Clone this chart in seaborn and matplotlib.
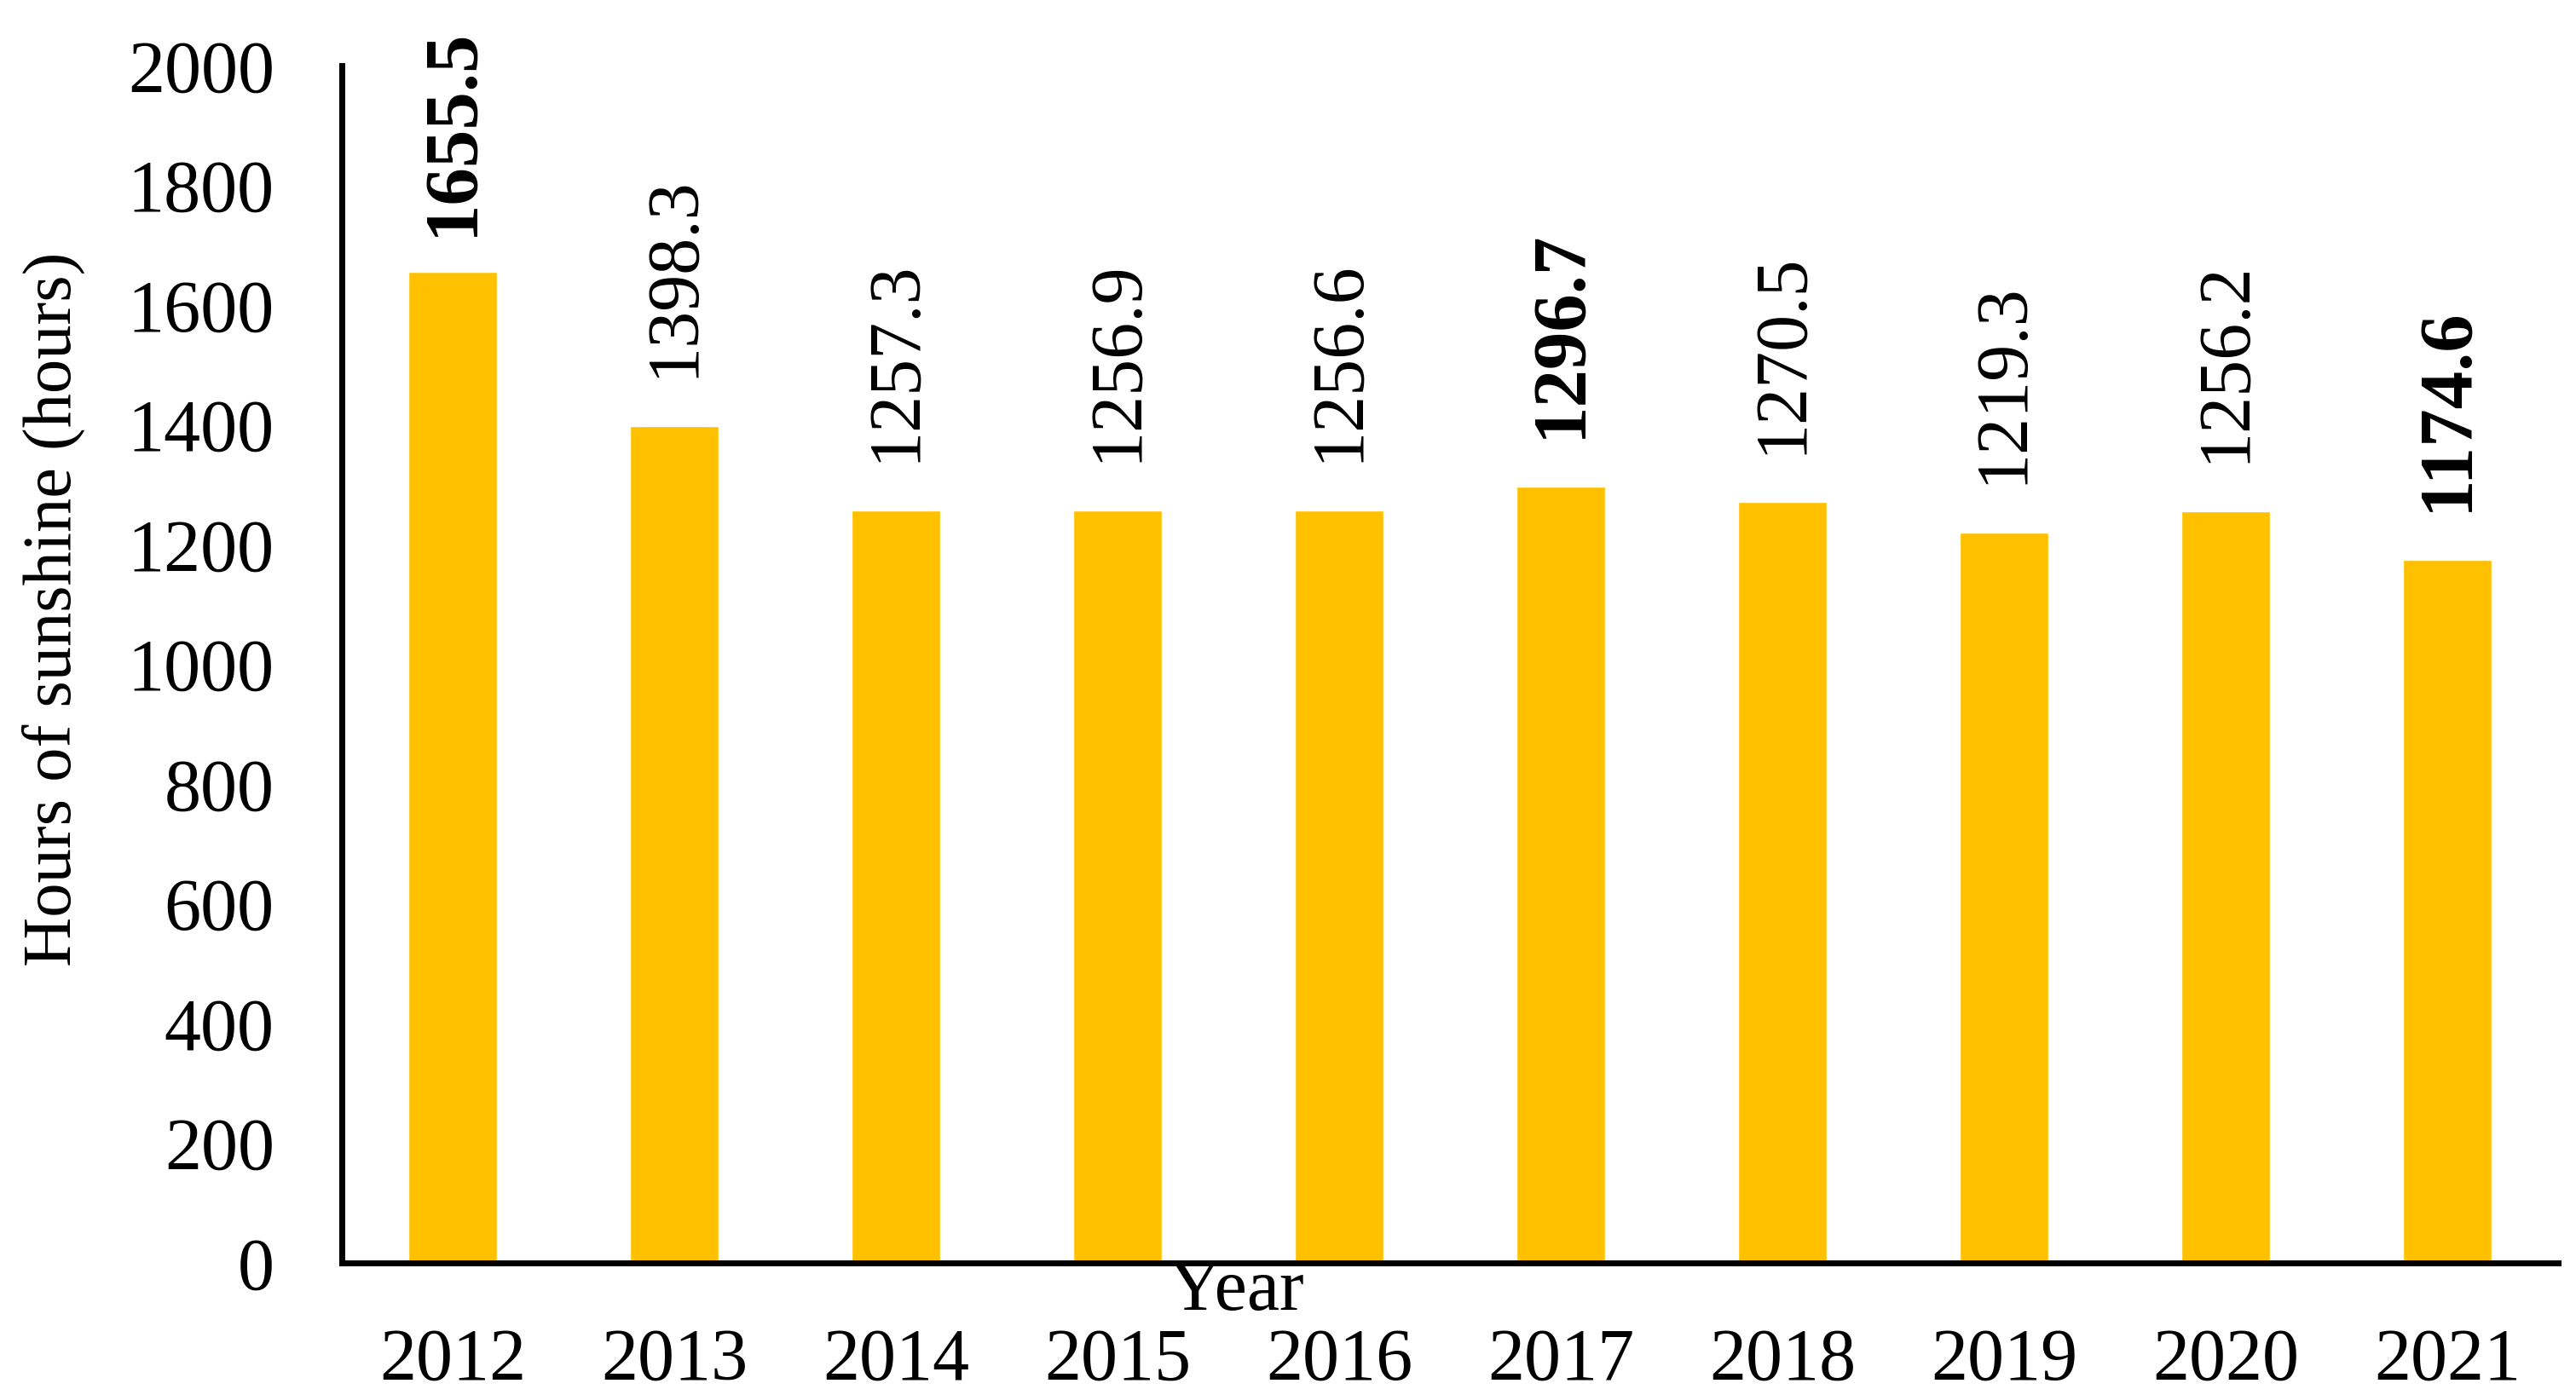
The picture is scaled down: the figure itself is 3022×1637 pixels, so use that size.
import matplotlib
matplotlib.use("Agg")
import matplotlib.pyplot as plt
import seaborn as sns
import pandas as pd

years = ["2012", "2013", "2014", "2015", "2016", "2017", "2018", "2019", "2020", "2021"]
hours = [1655.5, 1398.3, 1257.3, 1256.9, 1256.6, 1296.7, 1270.5, 1219.3, 1256.2, 1174.6]
bold_years = ["2012", "2017", "2021"]
y_ticks = [0, 200, 400, 600, 800, 1000, 1200, 1400, 1600, 1800, 2000]

sns.set_theme(style="white")
plt.rcParams['font.family'] = ['Liberation Serif', 'DejaVu Serif']

df = pd.DataFrame({"Year": years, "Hours": hours})

W, H = 3022, 1637
fig = plt.figure(figsize=(W / 100, H / 100), dpi=100)
left, right, top, bottom = 401, 3001, 77, 1482
ax = fig.add_axes([left / W, 1 - bottom / H, (right - left) / W, (bottom - top) / H])

sns.barplot(data=df, x="Year", y="Hours", color="#FFC000", saturation=1,
            width=0.40, ax=ax)

ax.set_xlim(-0.5, len(years) - 0.5)
ax.set_ylim(0, 2000)
ax.set_yticks(y_ticks)
ax.set_yticklabels([str(t) for t in y_ticks])

for sp in ["top", "right"]:
    ax.spines[sp].set_visible(False)
for sp in ["left", "bottom"]:
    ax.spines[sp].set_color("black")
    ax.spines[sp].set_linewidth(5)

ax.tick_params(axis="both", length=0, labelsize=62, colors="black")
ax.tick_params(axis="y", pad=57)
ax.tick_params(axis="x", pad=55)

for i, (yr, v) in enumerate(zip(years, hours)):
    is_bold = yr in bold_years
    off = 30 if i == 0 else 41
    ax.annotate(f"{v:.1f}", xy=(i, v), xytext=(0, off), textcoords="offset points",
                rotation=90, ha="center", va="bottom",
                fontsize=64 if is_bold else 62,
                fontweight="bold" if is_bold else "normal",
                color="black", annotation_clip=False)

ax.set_xlabel("Year", fontsize=62, color="black")
ax.xaxis.set_label_coords(0.4035, 0.004)
ax.xaxis.label.set_va("top")
ax.set_ylabel("Hours of sunshine (hours)", fontsize=58, color="black")
ax.yaxis.set_label_coords(-0.130, 0.546)
ax.yaxis.label.set_va("center")

fig.savefig("out.png", dpi=100, facecolor="white")
